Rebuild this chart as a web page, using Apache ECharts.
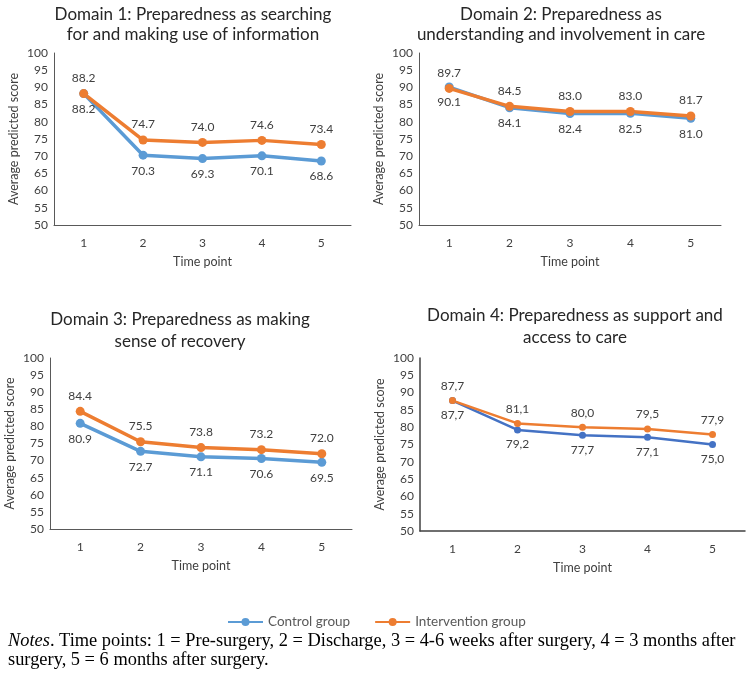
<!DOCTYPE html>
<html>
<head>
<meta charset="utf-8">
<script src="https://cdn.jsdelivr.net/npm/echarts@6/dist/echarts.min.js"></script>
<style>
html,body{margin:0;padding:0;background:#fff;}
#c{width:746px;height:686px;}
</style>
</head>
<body>
<div id="c"></div>
<script>
var categories = ['1', '2', '3', '4', '5'];
var yTicks = {min: 50, max: 100, interval: 5};

var titles = [
  'Domain 1: Preparedness as searching\nfor and making use of information',
  'Domain 2: Preparedness as\nunderstanding and involvement in care',
  'Domain 3: Preparedness as making\nsense of recovery',
  'Domain 4: Preparedness as support and\naccess to care'
];

var control1 = [88.2, 70.3, 69.3, 70.1, 68.6];
var intervention1 = [88.2, 74.7, 74.0, 74.6, 73.4];
var control2 = [90.1, 84.1, 82.4, 82.5, 81.0];
var intervention2 = [89.7, 84.5, 83.0, 83.0, 81.7];
var control3 = [80.9, 72.7, 71.1, 70.6, 69.5];
var intervention3 = [84.4, 75.5, 73.8, 73.2, 72.0];
var control4 = [87.7, 79.2, 77.7, 77.1, 75.0];
var intervention4 = [87.7, 81.1, 80.0, 79.5, 77.9];

var seriesNames = ['Control group', 'Intervention group'];
var xName = 'Time point';
var yName = 'Average predicted score';
var notesText = '{i|Notes}. Time points: 1 = Pre-surgery, 2 = Discharge, 3 = 4-6 weeks after surgery, 4 = 3 months after\nsurgery, 5 = 6 months after surgery.';

var FONT = 'Lato';
var panels = [
  {grid: {left: 54, top: 53, width: 297, height: 172}, title: {x: 188, y: 0, lh: 20}, ctrl: control1, intv: intervention1, comma: false, blue: '#5B9BD5', lw: 3.5, sym: 9, axisColor: '#595959', axisW: 1},
  {grid: {left: 419, top: 53, width: 302, height: 172}, title: {x: 556, y: 0, lh: 20}, ctrl: control2, intv: intervention2, comma: false, blue: '#5B9BD5', lw: 3.5, sym: 9, axisColor: '#595959', axisW: 1},
  {grid: {left: 50, top: 358, width: 302, height: 171}, title: {x: 175, y: 304, lh: 22}, ctrl: control3, intv: intervention3, comma: false, blue: '#5B9BD5', lw: 3.5, sym: 9, axisColor: '#595959', axisW: 1},
  {grid: {left: 420, top: 358, width: 325, height: 173}, title: {x: 570, y: 300, lh: 22}, ctrl: control4, intv: intervention4, comma: true, blue: '#4472C4', lw: 2.5, sym: 7, axisColor: '#404040', axisW: 1.5}
];

var option = {
  backgroundColor: '#fff',
  animation: false,
  title: [], grid: [], xAxis: [], yAxis: [], series: [],
  legend: {
    data: seriesNames,
    left: 222, top: 610,
    itemWidth: 35, itemHeight: 10, itemGap: 24,
    textStyle: {fontFamily: FONT, fontSize: 13.5, color: '#595959'}
  },
  graphic: [{
    type: 'text', left: 8, top: 632,
    style: {
      text: notesText,
      fontFamily: 'Liberation Serif', fontSize: 18.4, lineHeight: 19, fill: '#000',
      rich: {i: {fontStyle: 'italic', fontFamily: 'Liberation Serif', fontSize: 18.4}}
    }
  }]
};

panels.forEach(function (p, i) {
  option.title.push({
    text: titles[i], left: p.title.x, top: p.title.y, textAlign: 'center',
    textStyle: {fontFamily: FONT, fontSize: 17, fontWeight: 'normal', color: '#262626', lineHeight: p.title.lh}
  });
  option.grid.push(p.grid);
  option.xAxis.push({
    type: 'category', gridIndex: i, data: categories, boundaryGap: true,
    name: xName, nameLocation: 'middle', nameGap: 30,
    nameTextStyle: {fontFamily: FONT, fontSize: 12.5, color: '#404040'},
    axisLine: {lineStyle: {color: p.axisColor, width: p.axisW}},
    axisTick: {show: false},
    axisLabel: {fontFamily: FONT, fontSize: 12, color: '#404040', margin: 12},
    splitLine: {show: false}
  });
  option.yAxis.push({
    type: 'value', gridIndex: i, min: yTicks.min, max: yTicks.max, interval: yTicks.interval,
    name: yName, nameLocation: 'middle', nameGap: 34, nameRotate: 90,
    nameTextStyle: {fontFamily: FONT, fontSize: 12.5, color: '#404040'},
    axisLine: {show: true, lineStyle: {color: p.axisColor, width: p.axisW}},
    axisTick: {show: false},
    axisLabel: {fontFamily: FONT, fontSize: 12, color: '#404040', margin: 6},
    splitLine: {show: false}
  });
  var fmt = function (v) {
    var s = Number(v.value).toFixed(1);
    return p.comma ? s.replace('.', ',') : s;
  };
  option.series.push({
    name: seriesNames[0], type: 'line', xAxisIndex: i, yAxisIndex: i, data: p.ctrl,
    symbol: 'circle', symbolSize: p.sym,
    lineStyle: {color: p.blue, width: p.lw}, itemStyle: {color: p.blue},
    label: {show: true, position: 'bottom', distance: 5, formatter: fmt, fontFamily: FONT, fontSize: 12, color: '#404040'}
  });
  option.series.push({
    name: seriesNames[1], type: 'line', xAxisIndex: i, yAxisIndex: i, data: p.intv,
    symbol: 'circle', symbolSize: p.sym,
    lineStyle: {color: '#ED7D31', width: p.lw}, itemStyle: {color: '#ED7D31'},
    label: {show: true, position: 'top', distance: 5, formatter: fmt, fontFamily: FONT, fontSize: 12, color: '#404040'}
  });
});

var chart = echarts.init(document.getElementById('c'), null, {renderer: 'canvas'});
chart.setOption(option);
</script>
</body>
</html>
